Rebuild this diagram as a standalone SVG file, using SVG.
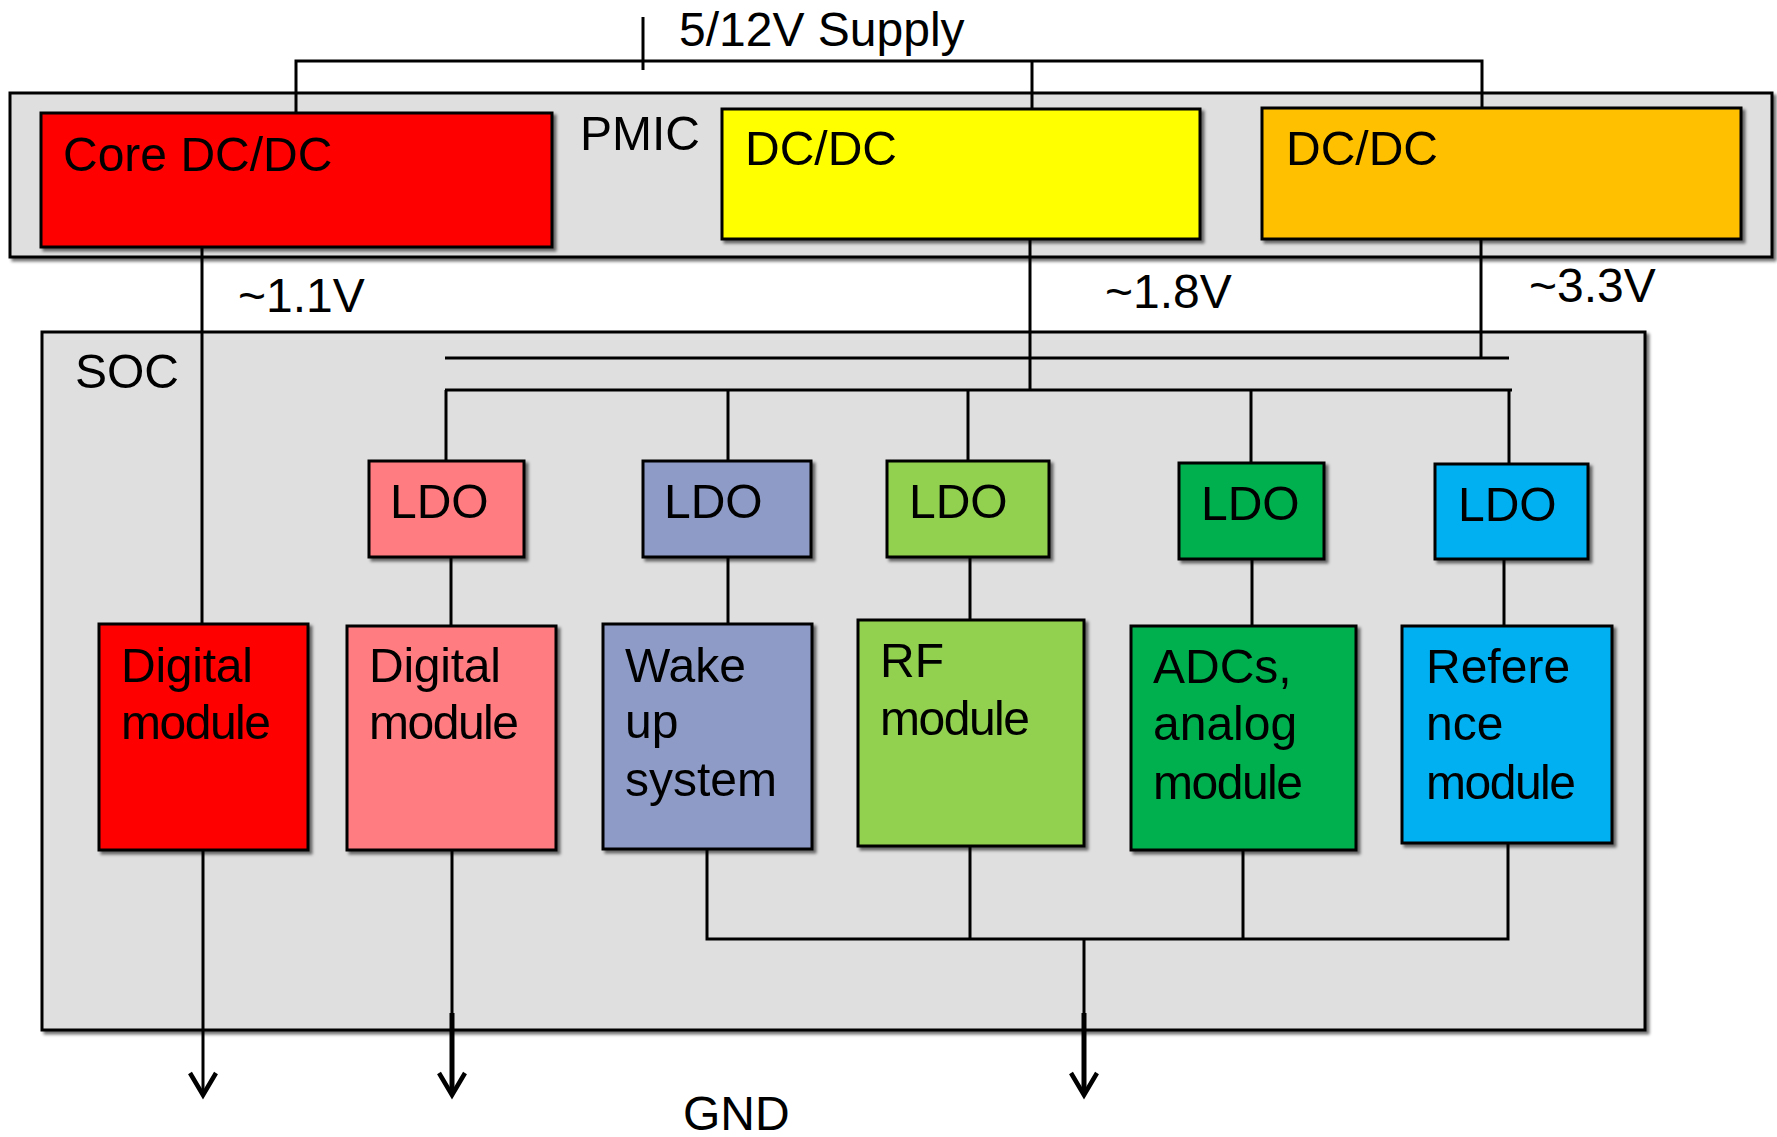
<svg xmlns="http://www.w3.org/2000/svg" width="1777" height="1137" viewBox="0 0 1777 1137">
<defs>
<filter id="sh" x="-5%" y="-5%" width="115%" height="115%">
<feDropShadow dx="3" dy="3" stdDeviation="1.5" flood-color="#000" flood-opacity="0.55"/>
</filter>
<marker id="arr" markerWidth="30" markerHeight="30" refX="25" refY="15" orient="auto" markerUnits="userSpaceOnUse" overflow="visible">
<path d="M3,2 L25,15 L3,28" fill="none" stroke="#000" stroke-width="4.5" stroke-linejoin="miter"/>
</marker>
</defs>
<style>
text{font-family:"Liberation Sans",Arial,sans-serif;font-size:48px;fill:#000}
.box{stroke:#000;stroke-width:3}
.cont{fill:#DFDFDF;stroke:#000;stroke-width:3}
.w{fill:none;stroke:#000;stroke-width:3}
.a{fill:none;stroke:#000;stroke-width:3;marker-end:url(#arr)}
</style>
<rect width="1777" height="1137" fill="#fff"/>

<g id="pmic" filter="url(#sh)">
<rect class="cont" x="10" y="93" width="1762" height="164"/>
<text x="580" y="150">PMIC</text>
</g>
<g id="soc" filter="url(#sh)">
<rect class="cont" x="42" y="332" width="1603" height="698"/>
<text x="75" y="388">SOC</text>
</g>

<g id="connectors">
<line class="w" x1="643" y1="17" x2="643" y2="70"/>
<polyline class="w" points="296,113 296,61 1482,61 1482,108"/>
<line class="w" x1="1032" y1="61" x2="1032" y2="109"/>
<line class="w" x1="202" y1="247" x2="202" y2="624"/>
<line class="w" x1="1030" y1="239" x2="1030" y2="390"/>
<line class="w" x1="1481" y1="239" x2="1481" y2="358"/>
<line class="w" x1="445" y1="358" x2="1509" y2="358"/>
<line class="w" x1="445" y1="390" x2="1512" y2="390"/>
<line class="w" x1="446" y1="390" x2="446" y2="461"/>
<line class="w" x1="728" y1="390" x2="728" y2="461"/>
<line class="w" x1="968" y1="390" x2="968" y2="461"/>
<line class="w" x1="1251" y1="390" x2="1251" y2="463"/>
<line class="w" x1="1509" y1="390" x2="1509" y2="464"/>
<line class="w" x1="451" y1="557" x2="451" y2="626"/>
<line class="w" x1="728" y1="557" x2="728" y2="624"/>
<line class="w" x1="970" y1="557" x2="970" y2="620"/>
<line class="w" x1="1252" y1="559" x2="1252" y2="626"/>
<line class="w" x1="1504" y1="559" x2="1504" y2="626"/>
<line class="a" x1="203" y1="850" x2="203" y2="1095"/>
<line class="a" x1="452" y1="850" x2="452" y2="1095"/>
<line class="w" x1="452" y1="1013" x2="452" y2="1090" style="stroke-width:5"/>
<polyline class="w" points="707,849 707,939 1508,939 1508,843"/>
<line class="w" x1="970" y1="846" x2="970" y2="939"/>
<line class="w" x1="1243" y1="850" x2="1243" y2="939"/>
<line class="a" x1="1084" y1="939" x2="1084" y2="1095"/>
<line class="w" x1="1084" y1="1013" x2="1084" y2="1090" style="stroke-width:5"/>
</g>

<g id="core-dcdc" filter="url(#sh)">
<rect class="box" x="41" y="113" width="511" height="134" fill="#FF0000"/>
<text x="63" y="171">Core DC/DC</text>
</g>
<g id="dcdc-18" filter="url(#sh)">
<rect class="box" x="722" y="109" width="478" height="130" fill="#FFFF00"/>
<text x="745" y="165">DC/DC</text>
</g>
<g id="dcdc-33" filter="url(#sh)">
<rect class="box" x="1262" y="108" width="479" height="131" fill="#FFC000"/>
<text x="1286" y="165">DC/DC</text>
</g>

<g id="labels">
<text x="679" y="46">5/12V Supply</text>
<text x="238" y="312">~1.1V</text>
<text x="1105" y="308">~1.8V</text>
<text x="1529" y="302">~3.3V</text>
<text x="683" y="1130">GND</text>
</g>

<g id="ldo1" filter="url(#sh)">
<rect class="box" x="369" y="461" width="155" height="96" fill="#FF7C80"/>
<text x="390" y="518">LDO</text>
</g>
<g id="ldo2" filter="url(#sh)">
<rect class="box" x="643" y="461" width="168" height="96" fill="#8E9BC6"/>
<text x="664" y="518">LDO</text>
</g>
<g id="ldo3" filter="url(#sh)">
<rect class="box" x="887" y="461" width="162" height="96" fill="#92D050"/>
<text x="909" y="518">LDO</text>
</g>
<g id="ldo4" filter="url(#sh)">
<rect class="box" x="1179" y="463" width="145" height="96" fill="#00B050"/>
<text x="1201" y="520">LDO</text>
</g>
<g id="ldo5" filter="url(#sh)">
<rect class="box" x="1435" y="464" width="153" height="95" fill="#00B0F0"/>
<text x="1458" y="521">LDO</text>
</g>

<g id="digital-core" filter="url(#sh)">
<rect class="box" x="99" y="624" width="209" height="226" fill="#FF0000"/>
<text x="121" y="682" textLength="132">Digital</text>
<text x="121" y="739" textLength="150">module</text>
</g>
<g id="digital-ldo" filter="url(#sh)">
<rect class="box" x="347" y="626" width="209" height="224" fill="#FF7C80"/>
<text x="369" y="682" textLength="132">Digital</text>
<text x="369" y="739" textLength="150">module</text>
</g>
<g id="wakeup" filter="url(#sh)">
<rect class="box" x="603" y="624" width="209" height="225" fill="#8E9BC6"/>
<text x="625" y="682">Wake</text>
<text x="625" y="738">up</text>
<text x="625" y="796">system</text>
</g>
<g id="rf" filter="url(#sh)">
<rect class="box" x="858" y="620" width="226" height="226" fill="#92D050"/>
<text x="880" y="677">RF</text>
<text x="880" y="735" textLength="150">module</text>
</g>
<g id="adc" filter="url(#sh)">
<rect class="box" x="1131" y="626" width="225" height="224" fill="#00B050"/>
<text x="1153" y="683">ADCs,</text>
<text x="1153" y="740">analog</text>
<text x="1153" y="799" textLength="150">module</text>
</g>
<g id="reference" filter="url(#sh)">
<rect class="box" x="1402" y="626" width="210" height="217" fill="#00B0F0"/>
<text x="1426" y="683">Refere</text>
<text x="1426" y="740">nce</text>
<text x="1426" y="799" textLength="150">module</text>
</g>
</svg>
